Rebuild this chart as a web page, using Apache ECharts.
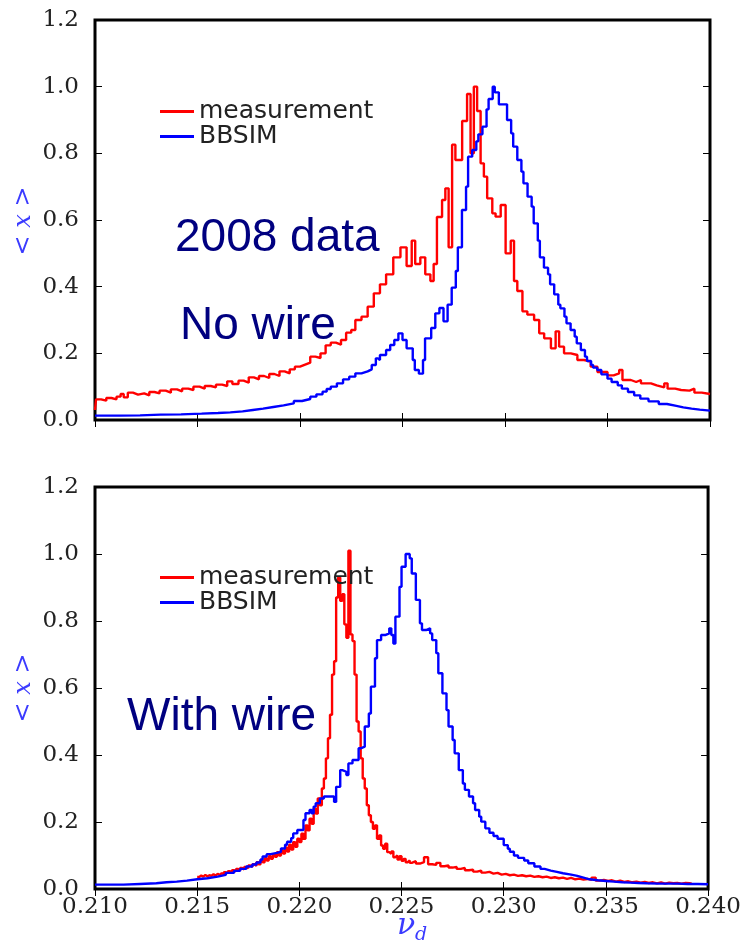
<!DOCTYPE html>
<html>
<head>
<meta charset="utf-8">
<script src="https://cdn.jsdelivr.net/npm/echarts@6/dist/echarts.min.js"></script>
<style>
html,body{margin:0;padding:0;background:#fff;}
#chart{width:744px;height:947px;}
</style>
</head>
<body>
<div id="chart"></div>
<script>
// ---------- data ----------
const xTickLabels = ['0.210','0.215','0.220','0.225','0.230','0.235','0.240'];
const yTickLabels = ['0.0','0.2','0.4','0.6','0.8','1.0','1.2'];

// Top panel (no wire) - measurement: bin left edges and values
const topMeasNu = [0.21000,0.21005,0.21030,0.21055,0.21080,0.21105,0.21125,0.21140,0.21160,0.21185,0.21210,0.21240,0.21265,0.21290,0.21315,0.21345,0.21370,0.21400,0.21425,0.21455,0.21480,0.21510,0.21535,0.21565,0.21590,0.21620,0.21645,0.21670,0.21700,0.21725,0.21750,0.21775,0.21800,0.21825,0.21850,0.21875,0.21900,0.21925,0.21950,0.21975,0.22000,0.22025,0.22050,0.22075,0.22100,0.22125,0.22150,0.22175,0.22200,0.22225,0.22250,0.22270,0.22300,0.22330,0.22360,0.22390,0.22420,0.22455,0.22490,0.22520,0.22545,0.22562,0.22587,0.22611,0.22636,0.22652,0.22668,0.22693,0.22709,0.22725,0.22742,0.22758,0.22791,0.22815,0.22832,0.22848,0.22864,0.22881,0.22897,0.22913,0.22938,0.22954,0.22979,0.23003,0.23028,0.23044,0.23060,0.23085,0.23109,0.23142,0.23167,0.23191,0.23224,0.23247,0.23264,0.23288,0.23321,0.23353,0.23386,0.23418,0.23451,0.23500,0.23530,0.23557,0.23573,0.23614,0.23640,0.23663,0.23712,0.23740,0.23777,0.23793,0.23830,0.23859,0.23900,0.23924,0.23960,0.24000];
const topMeasVal = [0.030,0.062,0.058,0.066,0.062,0.070,0.078,0.068,0.082,0.076,0.080,0.074,0.084,0.080,0.088,0.082,0.092,0.086,0.094,0.090,0.100,0.094,0.102,0.098,0.106,0.102,0.116,0.108,0.118,0.112,0.128,0.122,0.132,0.126,0.138,0.132,0.146,0.140,0.152,0.160,0.166,0.172,0.190,0.186,0.200,0.224,0.232,0.226,0.240,0.262,0.270,0.300,0.310,0.340,0.380,0.407,0.437,0.488,0.518,0.462,0.538,0.468,0.488,0.437,0.417,0.468,0.609,0.660,0.695,0.518,0.826,0.780,0.897,0.978,0.800,1.000,0.927,0.770,0.730,0.665,0.620,0.610,0.645,0.500,0.538,0.417,0.387,0.326,0.316,0.300,0.260,0.245,0.215,0.266,0.220,0.200,0.195,0.180,0.175,0.160,0.144,0.134,0.140,0.150,0.120,0.114,0.120,0.110,0.104,0.098,0.110,0.094,0.090,0.088,0.094,0.082,0.078,0.078];

// Top panel (no wire) - BBSIM
const topSimNu = [0.2100,0.2112,0.2122,0.2132,0.2142,0.2152,0.2160,0.2166,0.2172,0.2177,0.2182,0.2187,0.2192,0.2197,0.2201,0.2205,0.2208,0.2211,0.2213,0.2215,0.2218,0.2221,0.2224,0.2227,0.2230,0.2233,0.2235,0.2237,0.2238,0.2239,0.2242,0.2244,0.2246,0.2248,0.2250,0.2252,0.2255,0.2256,0.2258,0.2260,0.2261,0.2264,0.2266,0.2268,0.2270,0.2272,0.2274,0.2276,0.2277,0.2279,0.2281,0.2282,0.2284,0.2286,0.2287,0.2289,0.2291,0.2292,0.2294,0.2295,0.2297,0.2301,0.2303,0.2304,0.2306,0.2308,0.2309,0.2311,0.2313,0.2314,0.2316,0.2317,0.2319,0.2321,0.2322,0.2324,0.2326,0.2327,0.2329,0.2330,0.2332,0.2334,0.2335,0.2337,0.2339,0.2340,0.2342,0.2343,0.2345,0.2347,0.2350,0.2352,0.2355,0.2357,0.2360,0.2363,0.2366,0.2370,0.2375,0.2379,0.2383,0.2387,0.2391,0.2395,0.2400];
const topSimVal = [0.013,0.014,0.016,0.017,0.019,0.021,0.023,0.026,0.030,0.034,0.039,0.044,0.050,0.057,0.063,0.070,0.077,0.085,0.093,0.100,0.110,0.122,0.130,0.140,0.146,0.152,0.165,0.185,0.180,0.195,0.210,0.225,0.240,0.260,0.240,0.215,0.180,0.150,0.139,0.180,0.245,0.276,0.320,0.336,0.296,0.346,0.397,0.447,0.518,0.630,0.700,0.790,0.810,0.836,0.857,0.880,0.932,0.963,1.000,0.983,0.947,0.900,0.860,0.820,0.780,0.745,0.710,0.670,0.640,0.590,0.538,0.488,0.457,0.437,0.407,0.377,0.346,0.335,0.310,0.290,0.270,0.250,0.230,0.210,0.190,0.177,0.165,0.157,0.150,0.137,0.124,0.114,0.104,0.094,0.084,0.074,0.064,0.056,0.048,0.043,0.038,0.034,0.031,0.028,0.026];

// Bottom panel (with wire) - measurement
const botMeasNu = [0.2150,0.2151,0.2152,0.2153,0.2154,0.2155,0.2156,0.2157,0.2158,0.2159,0.2160,0.2161,0.2162,0.2163,0.2164,0.2165,0.2166,0.2167,0.2168,0.2169,0.2170,0.2171,0.2172,0.2173,0.2174,0.2175,0.2176,0.2177,0.2178,0.2179,0.2180,0.2181,0.2182,0.2183,0.2184,0.2185,0.2186,0.2187,0.2188,0.2189,0.2190,0.2191,0.2192,0.2193,0.2194,0.2195,0.2196,0.2197,0.2198,0.2199,0.2200,0.2201,0.2202,0.2203,0.2204,0.2205,0.2206,0.2207,0.2208,0.2209,0.2210,0.2211,0.2212,0.2213,0.2214,0.2215,0.2216,0.2217,0.2218,0.2219,0.2220,0.2221,0.2222,0.2223,0.2224,0.2225,0.2226,0.2227,0.2228,0.2229,0.2230,0.2231,0.2232,0.2233,0.2234,0.2235,0.2236,0.2237,0.2238,0.2239,0.2240,0.2241,0.2242,0.2243,0.2244,0.2245,0.2246,0.2247,0.2248,0.2249,0.2250,0.2251,0.2252,0.2253,0.2254,0.2255,0.2257,0.2259,0.2261,0.2263,0.2265,0.2267,0.2269,0.2271,0.2273,0.2275,0.2277,0.2279,0.2281,0.2283,0.2285,0.2287,0.2289,0.2291,0.2293,0.2295,0.2297,0.2299,0.2301,0.2303,0.2305,0.2307,0.2309,0.2311,0.2313,0.2315,0.2317,0.2319,0.2321,0.2323,0.2325,0.2327,0.2329,0.2331,0.2333,0.2335,0.2337,0.2339,0.2341,0.2343,0.2345,0.2347,0.2349,0.2351,0.2353,0.2355,0.2357,0.2359,0.2361,0.2363,0.2365,0.2367,0.2369,0.2371,0.2373,0.2375,0.2377,0.2379,0.2381,0.2383,0.2385,0.2387,0.2389,0.2391,0.2392];
const botMeasVal = [0.036,0.040,0.037,0.042,0.038,0.041,0.039,0.044,0.040,0.045,0.042,0.047,0.044,0.050,0.047,0.053,0.049,0.056,0.052,0.060,0.055,0.063,0.058,0.066,0.062,0.070,0.066,0.074,0.069,0.080,0.074,0.086,0.080,0.092,0.085,0.098,0.090,0.104,0.096,0.110,0.100,0.116,0.106,0.124,0.112,0.132,0.118,0.140,0.126,0.150,0.140,0.165,0.150,0.190,0.175,0.210,0.195,0.240,0.225,0.270,0.250,0.300,0.330,0.390,0.450,0.520,0.640,0.680,0.870,0.930,0.860,0.880,0.790,0.750,1.010,0.760,0.740,0.640,0.500,0.470,0.390,0.330,0.300,0.250,0.220,0.200,0.180,0.190,0.150,0.160,0.130,0.120,0.135,0.110,0.105,0.112,0.095,0.100,0.088,0.098,0.084,0.090,0.080,0.085,0.078,0.083,0.076,0.080,0.095,0.074,0.072,0.078,0.068,0.070,0.064,0.066,0.060,0.063,0.056,0.058,0.052,0.055,0.049,0.051,0.046,0.048,0.043,0.045,0.041,0.043,0.039,0.041,0.038,0.040,0.036,0.038,0.035,0.037,0.033,0.035,0.032,0.034,0.030,0.033,0.029,0.031,0.028,0.030,0.027,0.034,0.025,0.027,0.024,0.026,0.022,0.025,0.021,0.023,0.020,0.022,0.019,0.021,0.018,0.020,0.017,0.020,0.016,0.019,0.017,0.018,0.016,0.018,0.017,0.016];

// Bottom panel (with wire) - BBSIM
const botSimNu = [0.2100,0.2114,0.2122,0.2130,0.2135,0.2140,0.2145,0.2150,0.2155,0.2160,0.2164,0.2168,0.2171,0.2174,0.2177,0.2179,0.2181,0.2182,0.2184,0.2186,0.2189,0.2191,0.2193,0.2194,0.2196,0.2197,0.2199,0.2202,0.2203,0.2205,0.2206,0.2207,0.2208,0.2210,0.2212,0.2216,0.2217,0.2218,0.2220,0.2221,0.2223,0.2224,0.2226,0.2229,0.2230,0.2232,0.2234,0.2235,0.2237,0.2238,0.2240,0.2242,0.2244,0.2245,0.2246,0.2247,0.2249,0.2250,0.2252,0.2254,0.2255,0.2257,0.2259,0.2260,0.2262,0.2264,0.2265,0.2267,0.2268,0.2270,0.2272,0.2273,0.2275,0.2276,0.2278,0.2280,0.2281,0.2283,0.2285,0.2286,0.2288,0.2289,0.2291,0.2293,0.2295,0.2297,0.2300,0.2302,0.2303,0.2305,0.2307,0.2310,0.2312,0.2315,0.2318,0.2320,0.2323,0.2326,0.2329,0.2333,0.2336,0.2339,0.2342,0.2346,0.2350,0.2354,0.2358,0.2362,0.2366,0.2370,0.2376,0.2380,0.2385,0.2390,0.2395,0.2400];
const botSimVal = [0.013,0.015,0.017,0.020,0.022,0.025,0.029,0.032,0.037,0.042,0.048,0.054,0.060,0.067,0.073,0.079,0.088,0.097,0.104,0.108,0.111,0.121,0.132,0.141,0.152,0.166,0.176,0.206,0.226,0.236,0.226,0.246,0.256,0.270,0.276,0.276,0.260,0.305,0.355,0.350,0.340,0.375,0.385,0.420,0.425,0.485,0.524,0.604,0.689,0.743,0.758,0.763,0.778,0.758,0.733,0.813,0.902,0.962,1.000,0.987,0.942,0.863,0.793,0.773,0.778,0.763,0.743,0.704,0.644,0.584,0.534,0.485,0.445,0.405,0.355,0.315,0.296,0.276,0.256,0.236,0.216,0.201,0.181,0.168,0.158,0.150,0.131,0.120,0.111,0.100,0.093,0.085,0.077,0.067,0.060,0.055,0.051,0.047,0.043,0.039,0.034,0.029,0.026,0.024,0.022,0.020,0.019,0.018,0.017,0.016,0.016,0.016,0.015,0.015,0.014,0.014];

// ---------- chart ----------
function pairs(xs, ys){ return xs.map((x,i)=>[x, ys[i]]); }

const RED = '#ff0000', BLUE = '#0000ff', NAVY = '#000080', NAMEBLUE = '#3b3bff';
const tickFont = {fontFamily:'DejaVu Serif', fontSize:23, color:'#222'};

function xAx(grid, pos, labels){
  return {
    gridIndex:grid, type:'value', position:pos, min:0.21, max:0.24, interval:0.005,
    axisLine:{show:false},
    axisTick:{show:true, inside:true, length:7, lineStyle:{color:'#000', width:1}},
    axisLabel:{show:labels, margin:7, ...tickFont,
      formatter:(v)=>{ const i=Math.round((v-0.21)/0.005); return xTickLabels[i]||''; }},
    splitLine:{show:false}
  };
}
function yAx(grid, pos, labels){
  return {
    gridIndex:grid, type:'value', position:pos, min:0, max:1.2, interval:0.2,
    axisLine:{show:false},
    axisTick:{show:true, inside:true, length:7, lineStyle:{color:'#000', width:1}},
    axisLabel:{show:labels, margin:16, ...tickFont,
      formatter:(v)=>{ const i=Math.round(v/0.2); return yTickLabels[i]||''; }},
    splitLine:{show:false}
  };
}
function ser(name, xi, yi, xs, ys, color){
  return {type:'line', name, xAxisIndex:xi, yAxisIndex:yi, step:'end', symbol:'none',
    data:pairs(xs, ys), lineStyle:{color, width:2.4}, itemStyle:{color}, z:3};
}
function leg(top){
  return {orient:'vertical', left:155, top, data:['measurement','BBSIM'], icon:'rect',
    itemWidth:34, itemHeight:3, itemGap:0, selectedMode:false,
    textStyle:{fontFamily:'DejaVu Sans', fontSize:25, lineHeight:22, color:'#222'}};
}
function yName(cy){
  return {type:'text', x:24, y:cy, rotation:Math.PI/2, z:10,
    style:{text:'< {i|x} >', font:'24px "DejaVu Serif", serif', fill:NAMEBLUE,
      align:'center', verticalAlign:'middle',
      rich:{i:{fontFamily:'DejaVu Serif', fontStyle:'italic', fontSize:24, fill:NAMEBLUE, color:NAMEBLUE}}}};
}

const chart = echarts.init(document.getElementById('chart'), null, {renderer:'canvas'});
chart.setOption({
  animation:false,
  backgroundColor:'#fff',
  grid:[
    {left:95, top:20, width:615, height:400, show:true, borderColor:'#000', borderWidth:3, backgroundColor:'transparent'},
    {left:95, top:487, width:615, height:402, show:true, borderColor:'#000', borderWidth:3, backgroundColor:'transparent'}
  ],
  xAxis:[ xAx(0,'bottom',false), xAx(0,'top',false), xAx(1,'bottom',true), xAx(1,'top',false) ],
  yAxis:[ yAx(0,'left',true), yAx(0,'right',false), yAx(1,'left',true), yAx(1,'right',false) ],
  legend:[ leg(94), leg(560) ],
  series:[
    ser('measurement',0,0,topMeasNu,topMeasVal,RED),
    ser('BBSIM',0,0,topSimNu,topSimVal,BLUE),
    ser('measurement',2,2,botMeasNu,botMeasVal,RED),
    ser('BBSIM',2,2,botSimNu,botSimVal,BLUE)
  ],
  graphic:[
    yName(221),
    yName(688),
    {type:'text', left:175, top:215, z:10, style:{text:'2008 data', font:'46px "Liberation Sans", Arial, sans-serif', fill:NAVY}},
    {type:'text', left:180, top:303, z:10, style:{text:'No wire', font:'46px "Liberation Sans", Arial, sans-serif', fill:NAVY}},
    {type:'text', left:127, top:694, z:10, style:{text:'With wire', font:'46px "Liberation Sans", Arial, sans-serif', fill:NAVY}},
    {type:'text', left:397, top:911, z:10, style:{text:'ν', font:'italic 30px "DejaVu Serif", serif', fill:NAMEBLUE}},
    {type:'text', left:415, top:926, z:10, style:{text:'d', font:'italic 19px "DejaVu Serif", serif', fill:NAMEBLUE}}
  ]
});
</script>
</body>
</html>
